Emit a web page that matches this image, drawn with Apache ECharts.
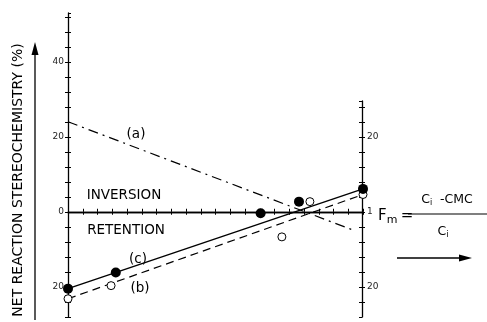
<!DOCTYPE html>
<html lang="en">
<head>
    <meta charset="UTF-8">
    <script src="https://cdn.jsdelivr.net/npm/echarts@6.0.0/dist/echarts.min.js"></script>
    <title>Fm</title>
    <style>
        html, body { margin: 0; padding: 0; background: #fff; }
        #main { width: 487px; height: 322px; }
    </style>
</head>
<body>
<div id="main"></div>
<script type="text/javascript">

    // filled circles, line (c)
    var filledFm = [0, 0.162, 0.653, 0.783, 1];
    var filledVal = [-20.5, -16.2, -0.4, 2.7, 6.1];
    // open circles, line (b)
    var openFm = [0, 0.146, 0.725, 0.82, 1];
    var openVal = [-23.2, -19.7, -6.7, 2.7, 4.6];
    // fitted lines
    var lineAFm = [0, 0.97];
    var lineAVal = [24, -5];
    var lineBFm = [0, 1];
    var lineBVal = [-23.2, 4.6];
    var lineCFm = [0, 1];
    var lineCVal = [-20.5, 6.1];
    // tick labels
    var leftTickValues = [40, 20, 0, -20];
    var leftTickText = ['40', '20', '0', '20'];
    var rightTickValues = [20, 0, -20];
    var rightTickText = ['20', '1', '20'];

    function pairs(xs, ys) {
        var out = [];
        for (var i = 0; i < xs.length; i++) out.push([xs[i], ys[i]]);
        return out;
    }
    function labelFor(values, texts) {
        return function (v) {
            var i = values.indexOf(v);
            return i < 0 ? '' : texts[i];
        };
    }

    var ink = '#000';
    var chart = echarts.init(document.getElementById('main'));

    var mainGrid = {left: 68, top: 13, width: 295, height: 303.75};
    var rightGrid = {left: 362, top: 101, width: 1, height: 216};

    var option = {
        animation: false,
        grid: [
            mainGrid,
            Object.assign({}, mainGrid),
            rightGrid,
            Object.assign({}, rightGrid)
        ],
        xAxis: [
            {
                gridIndex: 0, type: 'value', min: 0, max: 1, interval: 0.05, position: 'bottom',
                axisLine: {onZero: true, lineStyle: {color: ink, width: 1.3}},
                axisTick: {show: true, inside: false, length: 3, lineStyle: {color: ink}},
                axisLabel: {show: false}, splitLine: {show: false}
            },
            {
                gridIndex: 1, type: 'value', min: 0, max: 1, interval: 0.05, position: 'top',
                axisLine: {onZero: true, lineStyle: {color: ink, width: 1.3}},
                axisTick: {show: true, inside: false, length: 3, lineStyle: {color: ink}},
                axisLabel: {show: false}, splitLine: {show: false}
            },
            {gridIndex: 2, type: 'value', min: 0, max: 1, show: false},
            {gridIndex: 3, type: 'value', min: 0, max: 1, show: false}
        ],
        yAxis: [
            {
                gridIndex: 0, type: 'value', min: -28, max: 53, interval: 4, position: 'left',
                axisLine: {show: true, lineStyle: {color: ink, width: 1.3}},
                axisTick: {show: true, inside: false, length: 3, lineStyle: {color: ink}},
                axisLabel: {
                    show: true, showMinLabel: true, showMaxLabel: false, margin: 4,
                    color: '#222', fontSize: 9, fontFamily: 'DejaVu Sans',
                    formatter: labelFor(leftTickValues, leftTickText)
                },
                splitLine: {show: false}
            },
            {
                gridIndex: 1, type: 'value', min: -28, max: 53, interval: 4, position: 'left',
                axisLine: {show: false},
                axisTick: {show: true, inside: true, length: 3, lineStyle: {color: ink}},
                axisLabel: {show: false}, splitLine: {show: false}
            },
            {
                gridIndex: 2, type: 'value', min: -28, max: 29.6, interval: 4, position: 'right',
                axisLine: {show: true, lineStyle: {color: ink, width: 1.3}},
                axisTick: {show: true, inside: false, length: 3, lineStyle: {color: ink}},
                axisLabel: {
                    show: true, showMinLabel: false, showMaxLabel: false, margin: 4,
                    color: '#222', fontSize: 9, fontFamily: 'DejaVu Sans',
                    formatter: labelFor(rightTickValues, rightTickText)
                },
                splitLine: {show: false}
            },
            {
                gridIndex: 3, type: 'value', min: -28, max: 29.6, interval: 4, position: 'right',
                axisLine: {show: false},
                axisTick: {show: true, inside: true, length: 3, lineStyle: {color: ink}},
                axisLabel: {show: false}, splitLine: {show: false}
            }
        ],
        series: [
            {
                name: '(a)', type: 'line', data: pairs(lineAFm, lineAVal), showSymbol: false,
                lineStyle: {color: ink, width: 1.2, type: [10, 5, 2, 5]}, z: 2
            },
            {
                name: '(b)', type: 'line', data: pairs(lineBFm, lineBVal), showSymbol: false,
                lineStyle: {color: ink, width: 1.2, type: [8, 5]}, z: 2
            },
            {
                name: '(c)', type: 'line', data: pairs(lineCFm, lineCVal), showSymbol: false,
                lineStyle: {color: ink, width: 1.4, type: 'solid'}, z: 2
            },
            {
                name: 'open', type: 'scatter', data: pairs(openFm, openVal), symbol: 'circle', symbolSize: 8,
                itemStyle: {color: '#fff', borderColor: ink, borderWidth: 1, opacity: 1}, z: 3
            },
            {
                name: 'filled', type: 'scatter', data: pairs(filledFm, filledVal), symbol: 'circle', symbolSize: 10,
                itemStyle: {color: ink, opacity: 1}, z: 4
            }
        ],
        graphic: [
            {
                type: 'text', x: 18, y: 180, rotation: Math.PI / 2,
                style: {text: 'NET REACTION STEREOCHEMISTRY (%)', font: '14px "DejaVu Sans"', fill: ink, align: 'center', verticalAlign: 'middle'}
            },
            {type: 'line', shape: {x1: 35, y1: 320, x2: 35, y2: 52}, style: {stroke: ink, lineWidth: 1.3}},
            {type: 'polygon', shape: {points: [[35, 42], [31.5, 55], [38.5, 55]]}, style: {fill: ink}},
            {type: 'text', x: 124, y: 195, style: {text: 'INVERSION', font: '13.5px "DejaVu Sans"', fill: ink, align: 'center', verticalAlign: 'middle'}},
            {type: 'text', x: 126, y: 230, style: {text: 'RETENTION', font: '13.5px "DejaVu Sans"', fill: ink, align: 'center', verticalAlign: 'middle'}},
            {type: 'text', x: 136, y: 134, style: {text: '(a)', font: '13.5px "DejaVu Sans"', fill: ink, align: 'center', verticalAlign: 'middle'}},
            {type: 'text', x: 138, y: 259, style: {text: '(c)', font: '13.5px "DejaVu Sans"', fill: ink, align: 'center', verticalAlign: 'middle'}},
            {type: 'text', x: 140, y: 288, style: {text: '(b)', font: '13.5px "DejaVu Sans"', fill: ink, align: 'center', verticalAlign: 'middle'}},
            {
                type: 'text', x: 378, y: 216,
                style: {
                    text: '{f|F}{s|m} {f|=}', fill: ink, align: 'left', verticalAlign: 'middle',
                    rich: {f: {font: '15px "DejaVu Sans"', fill: ink}, s: {font: '11px "DejaVu Sans"', fill: ink, padding: [8, 0, 0, 0]}}
                }
            },
            {
                type: 'text', x: 447, y: 200,
                style: {
                    text: '{f|C}{s|i}{f|  -CMC}', fill: ink, align: 'center', verticalAlign: 'middle',
                    rich: {f: {font: '12.5px "DejaVu Sans"', fill: ink}, s: {font: '8px "DejaVu Sans"', fill: ink, padding: [6, 0, 0, 0]}}
                }
            },
            {type: 'line', shape: {x1: 408, y1: 214, x2: 487, y2: 214}, style: {stroke: ink, lineWidth: 1.2}},
            {
                type: 'text', x: 443, y: 232,
                style: {
                    text: '{f|C}{s|i}', fill: ink, align: 'center', verticalAlign: 'middle',
                    rich: {f: {font: '12.5px "DejaVu Sans"', fill: ink}, s: {font: '8px "DejaVu Sans"', fill: ink, padding: [6, 0, 0, 0]}}
                }
            },
            {type: 'line', shape: {x1: 397, y1: 258, x2: 462, y2: 258}, style: {stroke: ink, lineWidth: 1.3}},
            {type: 'polygon', shape: {points: [[472, 258], [459, 254.5], [459, 261.5]]}, style: {fill: ink}}
        ]
    };

    chart.setOption(option);
</script>
</body>
</html>
